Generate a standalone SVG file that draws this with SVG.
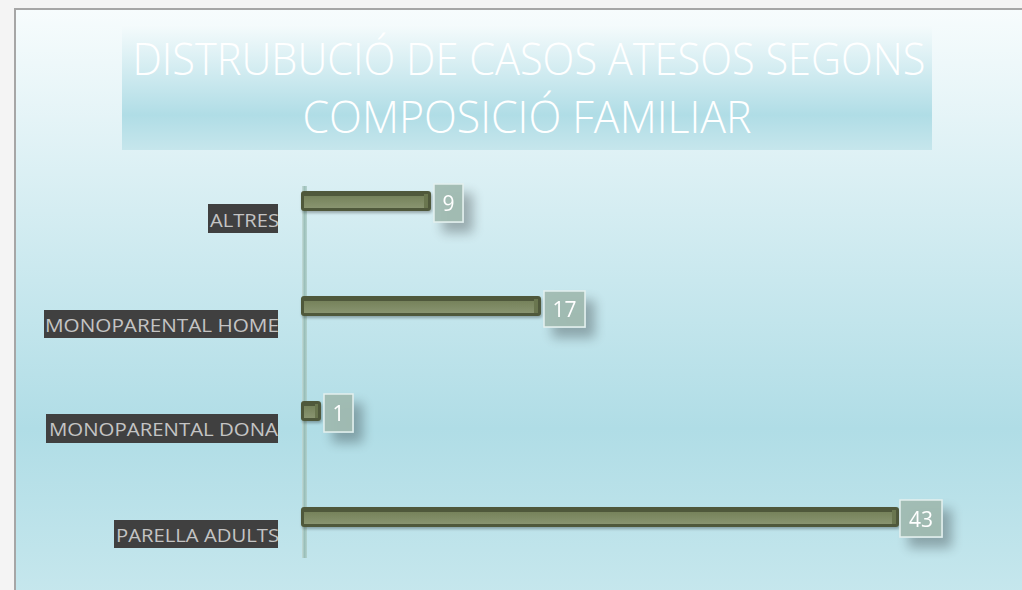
<svg xmlns="http://www.w3.org/2000/svg" width="1022" height="590" viewBox="0 0 1022 590">
  <defs>
    <linearGradient id="bg" x1="0" y1="9" x2="0" y2="720" gradientUnits="userSpaceOnUse">
      <stop offset="0" stop-color="#f7fcfd"/>
      <stop offset="0.59" stop-color="#b0dde6"/>
      <stop offset="1" stop-color="#d6eef2"/>
    </linearGradient>
    <linearGradient id="band" x1="0" y1="25" x2="0" y2="150" gradientUnits="userSpaceOnUse">
      <stop offset="0" stop-color="#f5fbfc"/>
      <stop offset="0.72" stop-color="#b0dde6"/>
      <stop offset="1" stop-color="#c6e6ec"/>
    </linearGradient>
    <linearGradient id="axis" x1="0" y1="0" x2="1" y2="0">
      <stop offset="0" stop-color="#c3d9d4"/>
      <stop offset="0.5" stop-color="#93b8b0"/>
      <stop offset="1" stop-color="#b0cfc9"/>
    </linearGradient>
    <linearGradient id="barface" x1="0" y1="0" x2="0" y2="1">
      <stop offset="0" stop-color="#76825b"/>
      <stop offset="1" stop-color="#899470"/>
    </linearGradient>
    <filter id="shadow" x="-60%" y="-60%" width="240%" height="240%">
      <feGaussianBlur in="SourceAlpha" stdDeviation="6"/>
      <feOffset dx="9" dy="10" result="b"/>
      <feComponentTransfer><feFuncA type="linear" slope="0.3"/></feComponentTransfer>
      <feMerge><feMergeNode/><feMergeNode in="SourceGraphic"/></feMerge>
    </filter>
    <filter id="barsh" x="-10%" y="-50%" width="120%" height="200%">
      <feGaussianBlur in="SourceAlpha" stdDeviation="1.5"/>
      <feOffset dx="1" dy="2" result="b"/>
      <feComponentTransfer><feFuncA type="linear" slope="0.3"/></feComponentTransfer>
      <feMerge><feMergeNode/><feMergeNode in="SourceGraphic"/></feMerge>
    </filter>
  </defs>
  <style>
    .title{font-family:"Open Sans","Liberation Sans",sans-serif;font-weight:300;font-size:44px;fill:#ffffff}
    .cat{font-family:"Open Sans","Liberation Sans",sans-serif;font-size:18px;fill:#c4c4c4}
    .catbox{fill:#404040}
    .bar-out{fill:#4f593a}
    .bar-in{fill:url(#barface)}
    .bar-end{fill:#6b7650}
    .vbox{fill:#9fbab0;fill-opacity:0.92;stroke:#e4f0ee;stroke-width:1.5}
    .val{font-family:"Open Sans","Liberation Sans",sans-serif;font-size:21px;font-weight:500;fill:#ffffff;text-anchor:middle}
  </style>

  <rect x="0" y="0" width="1022" height="590" fill="#f4f4f4"/>
  <rect x="15" y="9" width="1010" height="590" fill="url(#bg)" stroke="#a6a6a6" stroke-width="2"/>

  <g id="title">
    <rect x="122" y="25" width="810" height="125" fill="url(#band)"/>
    <text class="title" x="529" y="75" text-anchor="middle" textLength="793" lengthAdjust="spacingAndGlyphs">DISTRUBUCIÓ DE CASOS ATESOS SEGONS</text>
    <text class="title" x="527" y="133" text-anchor="middle" textLength="449" lengthAdjust="spacingAndGlyphs">COMPOSICIÓ FAMILIAR</text>
  </g>

  <g id="axis">
    <rect x="302" y="186" width="5" height="372" fill="url(#axis)" opacity="0.85"/>
  </g>

  <g id="cat-altres">
    <rect class="catbox" x="208" y="204" width="70" height="29"/>
    <text class="cat" x="210" y="227" textLength="69" lengthAdjust="spacingAndGlyphs">ALTRES</text>
  </g>
  <g id="cat-home">
    <rect class="catbox" x="44" y="310" width="234" height="28"/>
    <text class="cat" x="45" y="332" textLength="234" lengthAdjust="spacingAndGlyphs">MONOPARENTAL HOME</text>
  </g>
  <g id="cat-dona">
    <rect class="catbox" x="46" y="414" width="232" height="29"/>
    <text class="cat" x="49" y="436" textLength="229" lengthAdjust="spacingAndGlyphs">MONOPARENTAL DONA</text>
  </g>
  <g id="cat-parella">
    <rect class="catbox" x="114" y="520" width="164" height="28"/>
    <text class="cat" x="116" y="542" textLength="163" lengthAdjust="spacingAndGlyphs">PARELLA ADULTS</text>
  </g>

  <g id="bar-altres" filter="url(#barsh)">
    <rect class="bar-out" x="301" y="191" width="130" height="20" rx="3"/>
    <rect class="bar-in" x="304" y="196" width="120" height="12"/>
    <rect class="bar-end" x="424" y="194" width="4" height="14"/>
  </g>
  <g id="bar-home" filter="url(#barsh)">
    <rect class="bar-out" x="301" y="296" width="240" height="20" rx="3"/>
    <rect class="bar-in" x="304" y="301" width="230" height="12"/>
    <rect class="bar-end" x="534" y="299" width="4" height="14"/>
  </g>
  <g id="bar-dona" filter="url(#barsh)">
    <rect class="bar-out" x="301" y="401" width="20" height="20" rx="3"/>
    <rect class="bar-in" x="304" y="406" width="11" height="12"/>
    <rect class="bar-end" x="315" y="404" width="3" height="14"/>
  </g>
  <g id="bar-parella" filter="url(#barsh)">
    <rect class="bar-out" x="301" y="507" width="598" height="20" rx="3"/>
    <rect class="bar-in" x="304" y="512" width="588" height="12"/>
    <rect class="bar-end" x="892" y="510" width="4" height="14"/>
  </g>

  <g id="val-altres" filter="url(#shadow)">
    <rect class="vbox" x="434" y="184" width="29" height="38"/>
    <text class="val" x="448.5" y="211">9</text>
  </g>
  <g id="val-home" filter="url(#shadow)">
    <rect class="vbox" x="544" y="291" width="41" height="36"/>
    <text class="val" x="564.5" y="317">17</text>
  </g>
  <g id="val-dona" filter="url(#shadow)">
    <rect class="vbox" x="324" y="394" width="29" height="38"/>
    <text class="val" x="338.5" y="421">1</text>
  </g>
  <g id="val-parella" filter="url(#shadow)">
    <rect class="vbox" x="900" y="500" width="42" height="37"/>
    <text class="val" x="921" y="527">43</text>
  </g>
</svg>
